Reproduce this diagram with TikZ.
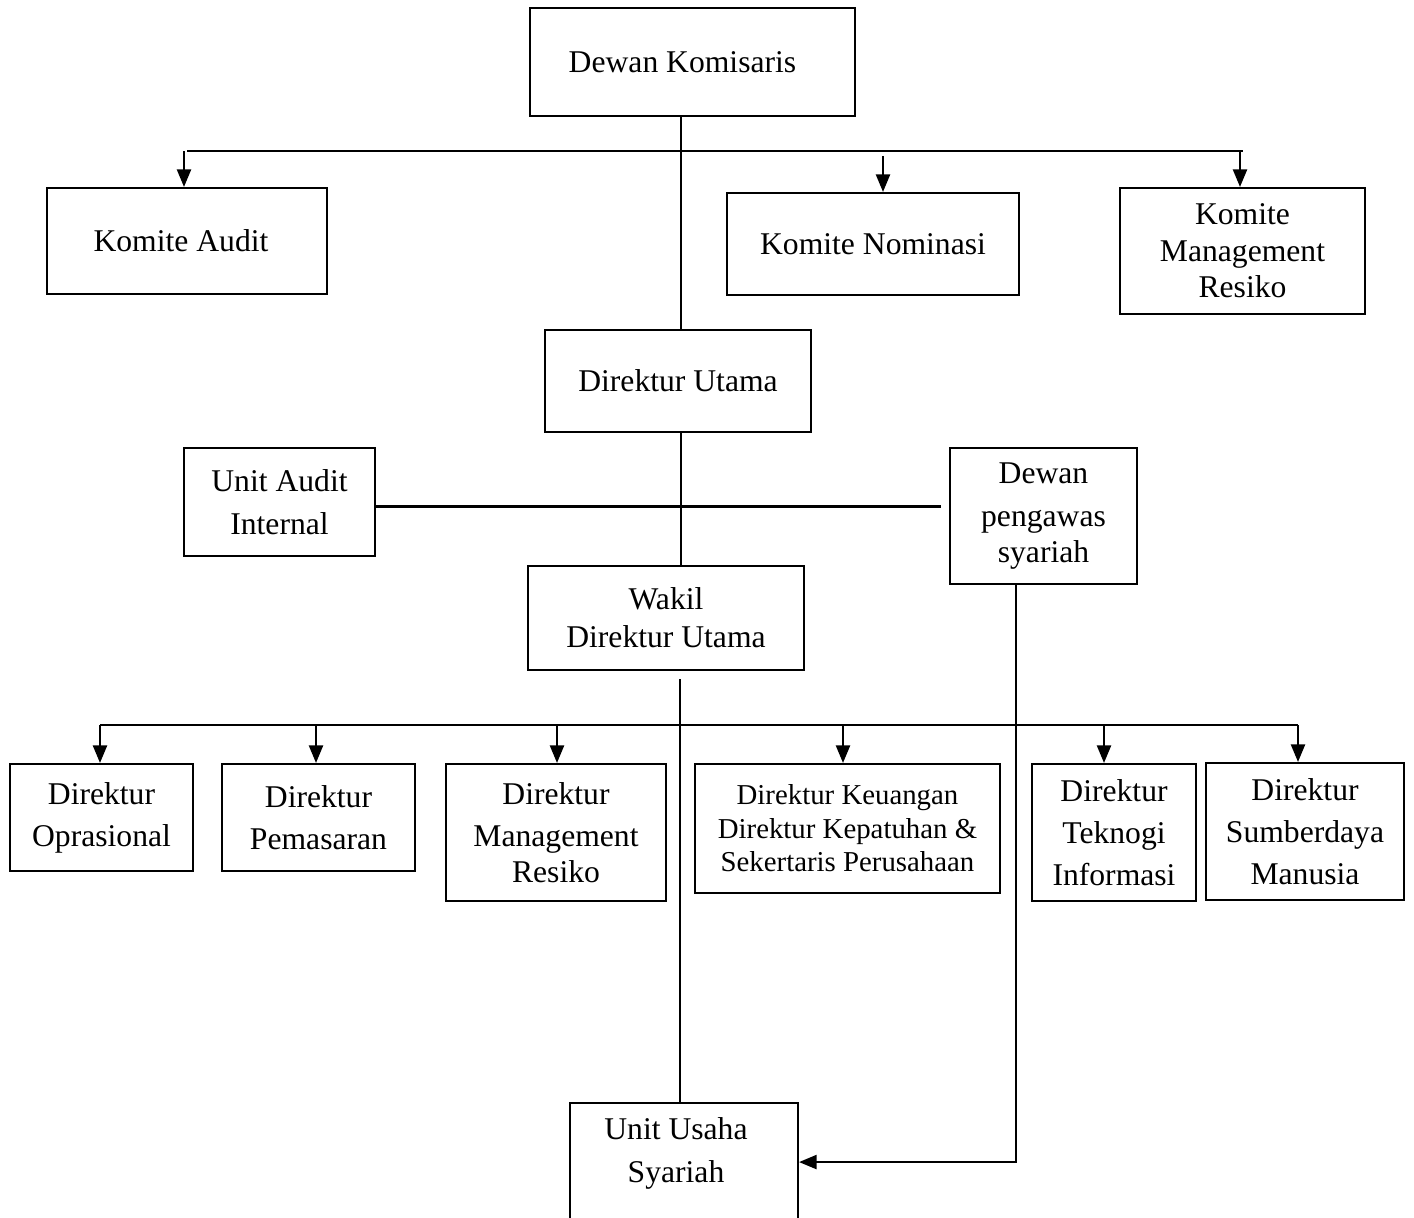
\documentclass[tikz,border=0pt]{standalone}
\usepackage{fontspec}
\setmainfont{Liberation Serif}
\usetikzlibrary{arrows.meta}

\begin{document}
\begin{tikzpicture}[
  box/.style={draw, line width=0.6pt, inner sep=0pt, align=center,
    font=\fontsize{9}{12}\selectfont},
  link/.style={line width=0.4pt},
  bus/.style={line width=0.6pt},
  arr/.style={line width=0.6pt, -{Triangle[length=5pt,width=4pt]}}
]
\useasboundingbox (0,0) rectangle (14.14,-12.18);
% top level
\node[box, minimum width=3.25cm, minimum height=1.08cm] (dk) at (6.925,-0.62) {Dewan Komisaris\hspace*{0.2cm}};
\node[box, minimum width=2.80cm, minimum height=1.06cm] (ka) at (1.87,-2.41) {Komite Audit\hspace*{0.12cm}};
\node[box, minimum width=2.92cm, minimum height=1.02cm] (kn) at (8.73,-2.44) {Komite Nominasi};
\node[box, minimum width=2.45cm, minimum height=1.26cm,
  font=\fontsize{9}{10.4}\selectfont] (kmr) at (12.425,-2.51) {Komite\\Management\\Resiko};
\node[box, minimum width=2.66cm, minimum height=1.02cm] (du) at (6.78,-3.81) {Direktur Utama};
\node[box, minimum width=1.91cm, minimum height=1.08cm,
  font=\fontsize{9}{12.2}\selectfont] (uai) at (2.795,-5.02) {Unit Audit\\Internal};
\node[box, minimum width=1.87cm, minimum height=1.36cm,
  font=\fontsize{9}{12.2}\selectfont] (dps) at (10.435,-5.16) {Dewan\\pengawas\\[-1.9pt]syariah};
\node[box, minimum width=2.76cm, minimum height=1.04cm,
  font=\fontsize{9}{10.8}\selectfont] (wdu) at (6.66,-6.18) {Wakil\\Direktur Utama};
% directors
\node[box, minimum width=1.83cm, minimum height=1.07cm] (dop) at (1.015,-8.175) {Direktur\\Oprasional};
\node[box, minimum width=1.93cm, minimum height=1.07cm] (dpm) at (3.185,-8.175) {Direktur\\Pemasaran};
\node[box, minimum width=2.20cm, minimum height=1.37cm] (dmr) at (5.56,-8.325) {Direktur\\Management\\[-1.7pt]Resiko};
\node[box, minimum width=3.05cm, minimum height=1.29cm,
  font=\fontsize{8.2}{9.5}\selectfont] (dkk) at (8.475,-8.285) {Direktur Keuangan\\Direktur Kepatuhan \&\\Sekertaris Perusahaan};
\node[box, minimum width=1.64cm, minimum height=1.37cm] (dti) at (11.14,-8.325) {Direktur\\Teknogi\\Informasi};
\node[box, minimum width=1.98cm, minimum height=1.37cm] (dsm) at (13.05,-8.315) {Direktur\\Sumberdaya\\Manusia};
% bottom unit, cut by the page edge
\node[box, minimum width=2.28cm, minimum height=1.50cm, anchor=north] (uus) at (6.84,-11.02) {};
\node[align=center, font=\fontsize{9}{12.2}\selectfont] (uustxt) at (6.76,-11.535) {Unit Usaha\\Syariah};

\coordinate (spine) at (6.81,0);
\coordinate (spinelow) at (6.80,0);
\coordinate (busa) at (0,-1.51);
\coordinate (busb) at (0,-5.06);
\coordinate (busc) at (0,-7.25);

\draw[link] (spine |- dk.south) -- (spine |- du.north);
\draw[link] (spine |- du.south) -- (spine |- wdu.north);
\draw[link] ([yshift=-0.08cm]spinelow |- wdu.south) -- (spinelow |- uus.north);

\draw[bus] (ka.north |- busa) -- (kmr.north |- busa);
\draw[arr] ([xshift=-0.03cm]ka.north |- busa) -- ([xshift=-0.03cm]ka.north);
\draw[arr] ([xshift=0.10cm,yshift=0.36cm]kn.north) -- ([xshift=0.10cm]kn.north);
\draw[arr] ([xshift=-0.025cm]kmr.north |- busa) -- ([xshift=-0.025cm]kmr.north);

\draw[line width=0.85pt] (uai.east |- busb) -- ([xshift=-0.08cm]dps.west |- busb);

\draw[bus] (1.00,-7.25) -- (12.98,-7.25);
\foreach \x/\n in {1.00/dop,3.16/dpm,5.57/dmr,8.43/dkk,11.04/dti,12.98/dsm} {
  \draw[arr] (\x,0 |- busc) -- (\x,0 |- \n.north);
}

\draw[arr] ([xshift=-0.275cm]dps.south) |- ([yshift=0.16cm]uus.east);
\end{tikzpicture}
\end{document}
